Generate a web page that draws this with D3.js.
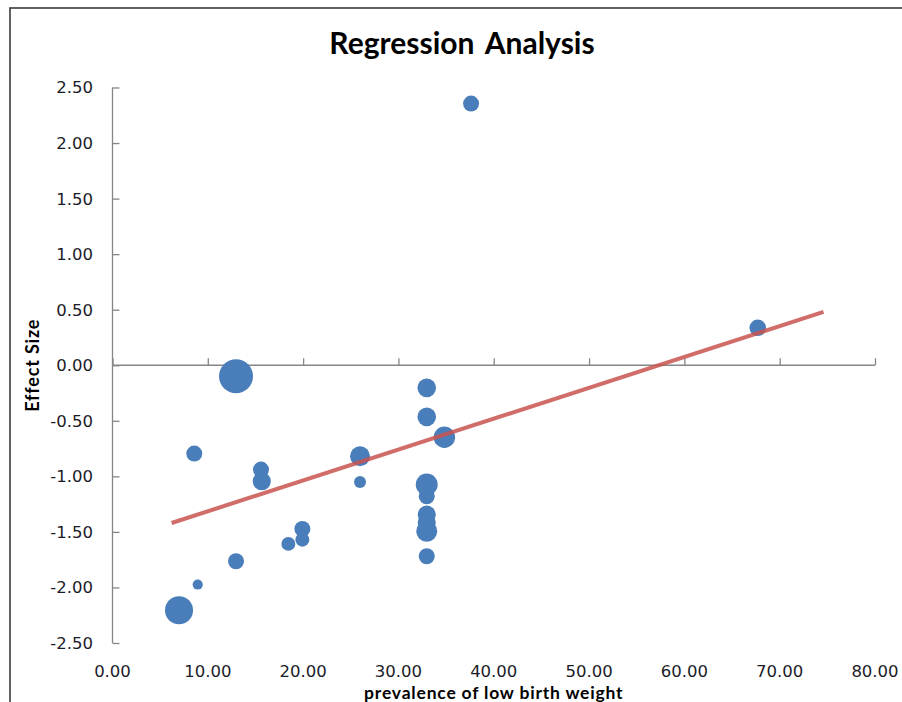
<!DOCTYPE html>
<html>
<head>
<meta charset="utf-8">
<script src="https://cdn.jsdelivr.net/npm/d3@7"></script>
<style>
  html, body { margin: 0; padding: 0; background: #fff; }
  svg { display: block; }
</style>
</head>
<body>
<svg id="chart" width="902" height="702"></svg>
<script>
// ---- data ----
const prevalence = [37.62, 67.70, 12.96, 32.97, 32.97, 34.82, 8.58, 25.97, 15.58, 15.66, 25.97,
                    32.97, 32.97, 32.97, 32.97, 32.97, 32.97, 19.92, 19.92, 18.45, 12.96, 8.94, 6.98];
const effectSize = [2.355, 0.337, -0.099, -0.203, -0.464, -0.648, -0.795, -0.819, -0.939, -1.044, -1.05,
                    -1.074, -1.179, -1.344, -1.416, -1.494, -1.719, -1.473, -1.570, -1.608, -1.764, -1.974, -2.205];
const weight     = [25, 27, 113, 34, 34, 45, 25, 39, 25, 32, 14,
                    47, 25, 32, 32, 43, 25, 25, 19, 19, 25, 10, 77];
const trendX = [6.2, 74.6];
const trendY = [-1.42, 0.48];
const xTicks = [0, 10, 20, 30, 40, 50, 60, 70, 80];
const yTicks = [-2.5, -2.0, -1.5, -1.0, -0.5, 0, 0.5, 1.0, 1.5, 2.0, 2.5];
const title = "Regression Analysis";
const xTitle = "prevalence of low birth weight";
const yTitle = "Effect Size";

// ---- layout ----
const svg = d3.select("#chart");
const plot = { left: 112.5, right: 875, top: 87.5, bottom: 643 };
const x = d3.scaleLinear().domain([0, 80]).range([plot.left, plot.right]);
const y = d3.scaleLinear().domain([-2.5, 2.5]).range([plot.bottom, plot.top]);
const r = d3.scaleSqrt().domain([0, 100]).range([0, 16]);
const axisColor = "#868686";
const fmt = d => d3.format(".2f")(d).replace("\u2212", "-");

// chart frame
svg.append("rect").attr("x", 10).attr("y", 8).attr("width", 1000).attr("height", 1000)
  .attr("fill", "none").attr("stroke", "#3a3a3a").attr("stroke-width", 1.6);

// title
svg.append("text").attr("x", 462).attr("y", 54).attr("text-anchor", "middle")
  .attr("font-family", "Lato, 'Open Sans', sans-serif").attr("font-weight", "bold")
  .attr("font-size", 30).attr("word-spacing", 4).attr("fill", "#000").text(title);

// y axis (ticks drawn to the right of the line)
const yAxis = d3.axisRight(y).tickValues(yTicks).tickSize(7).tickFormat("");
const gy = svg.append("g").attr("transform", `translate(${x(0)},0)`).call(yAxis);
gy.select(".domain").attr("stroke", axisColor).attr("stroke-width", 1.3).attr("d", `M0,${plot.top}V${plot.bottom}`);
gy.selectAll(".tick line").attr("stroke", axisColor).attr("stroke-width", 1.3);

// y tick labels
svg.append("g").selectAll("text").data(yTicks).join("text")
  .attr("x", 93).attr("y", d => y(d)).attr("dy", "0.36em").attr("text-anchor", "end")
  .attr("font-family", "'DejaVu Sans', sans-serif").attr("font-size", 16.5)
  .attr("fill", "#1c1c28").text(d => fmt(d));

// x axis at y = 0 (ticks pointing up)
const xAxis = d3.axisTop(x).tickValues(xTicks).tickSize(7).tickFormat("");
const gx = svg.append("g").attr("transform", `translate(0,${y(0)})`).call(xAxis);
gx.select(".domain").attr("stroke", axisColor).attr("stroke-width", 1.3).attr("d", `M${plot.left},0H${plot.right}`);
gx.selectAll(".tick line").attr("stroke", axisColor).attr("stroke-width", 1.3);

// x tick labels at bottom
svg.append("g").selectAll("text").data(xTicks).join("text")
  .attr("x", d => x(d)).attr("y", 671).attr("dy", "0.36em").attr("text-anchor", "middle")
  .attr("font-family", "'DejaVu Sans', sans-serif").attr("font-size", 16.5)
  .attr("fill", "#1c1c28").text(d => fmt(d));

// axis titles
svg.append("text").attr("x", (plot.left + plot.right) / 2).attr("y", 699).attr("text-anchor", "middle")
  .attr("font-family", "Lato, 'Open Sans', sans-serif").attr("font-weight", "bold")
  .attr("font-size", 17.5).attr("letter-spacing", 0.8).attr("fill", "#000").text(xTitle);
svg.append("text").attr("transform", `translate(39,${(plot.top + plot.bottom) / 2}) rotate(-90)`)
  .attr("text-anchor", "middle")
  .attr("font-family", "Lato, 'Open Sans', sans-serif").attr("font-weight", "bold")
  .attr("font-size", 18).attr("letter-spacing", 0.8).attr("fill", "#000").text(yTitle);

// bubbles
const pts = prevalence.map((v, i) => ({ x: v, y: effectSize[i], w: weight[i] }));
svg.append("g").selectAll("circle").data(pts).join("circle")
  .attr("cx", d => x(d.x)).attr("cy", d => y(d.y)).attr("r", d => r(d.w))
  .attr("fill", "#4a7ebb");

// trend line
const line = d3.line().x(d => x(d[0])).y(d => y(d[1]));
svg.append("path").datum(trendX.map((v, i) => [v, trendY[i]]))
  .attr("d", line).attr("fill", "none").attr("stroke", "#c9534f").attr("stroke-opacity", 0.85)
  .attr("stroke-width", 4);
</script>
</body>
</html>
